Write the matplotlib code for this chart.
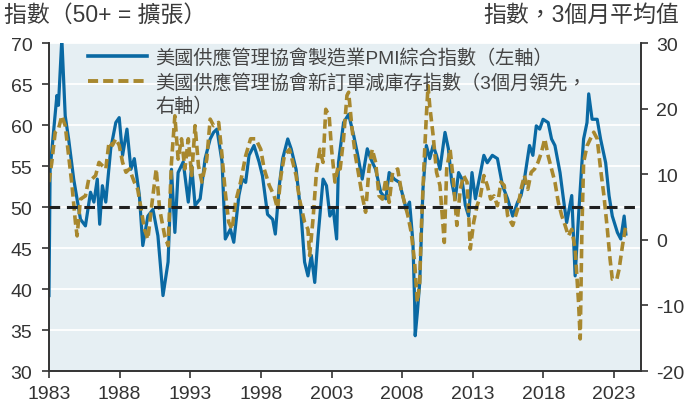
import matplotlib
matplotlib.use('Agg')
import matplotlib.pyplot as plt
from matplotlib.lines import Line2D
from matplotlib.transforms import blended_transform_factory

plt.rcParams['font.family'] = ['Liberation Sans', 'Noto Sans CJK TC']
plt.rcParams['axes.unicode_minus'] = False

# --- data ---
pmi_years = [
    1983.0, 1983.08, 1983.56, 1983.67, 1983.91, 1984.15, 1984.39, 1984.75, 1985.23, 1985.58,
    1985.94, 1986.18, 1986.42, 1986.59, 1986.78, 1987.02, 1987.37, 1987.73, 1987.97, 1988.21,
    1988.52, 1988.80, 1989.04, 1989.40, 1989.64, 1990.00, 1990.36, 1990.71, 1991.07, 1991.43,
    1991.67, 1991.91, 1992.14, 1992.50, 1992.86, 1993.10, 1993.34, 1993.70, 1994.05, 1994.41,
    1994.65, 1994.89, 1995.25, 1995.48, 1995.84, 1996.08, 1996.44, 1996.68, 1996.92, 1997.16,
    1997.51, 1997.87, 1998.11, 1998.47, 1998.83, 1999.02, 1999.30, 1999.54, 1999.90, 2000.14,
    2000.49, 2000.85, 2001.09, 2001.33, 2001.57, 2001.81, 2002.05, 2002.40, 2002.64, 2002.88,
    2003.12, 2003.36, 2003.49, 2003.85, 2004.21, 2004.57, 2004.81, 2005.17, 2005.53, 2005.77,
    2006.12, 2006.48, 2006.84, 2007.08, 2007.44, 2007.80, 2008.04, 2008.28, 2008.52, 2008.76,
    2008.88, 2008.92, 2009.07, 2009.24, 2009.47, 2009.71, 2009.95, 2010.19, 2010.43, 2010.67,
    2011.03, 2011.27, 2011.51, 2011.75, 2011.99, 2012.23, 2012.47, 2012.70, 2012.94, 2013.18,
    2013.54, 2013.78, 2014.02, 2014.38, 2014.74, 2015.10, 2015.46, 2015.82, 2016.17, 2016.41,
    2016.65, 2017.01, 2017.25, 2017.49, 2017.73, 2017.97, 2018.33, 2018.57, 2018.81, 2019.17,
    2019.41, 2019.64, 2020.00, 2020.24, 2020.48, 2020.72, 2020.84, 2021.08, 2021.20, 2021.44,
    2021.80, 2022.04, 2022.40, 2022.64, 2022.87, 2023.23, 2023.47, 2023.71, 2023.83,
]
pmi_values = [
    39.2, 54.6, 63.6, 62.4, 70.5, 61.1, 58.3, 53.4, 48.5, 47.7,
    51.8, 50.6, 53.4, 47.9, 52.6, 50.6, 57.1, 60.3, 60.9, 56.3,
    59.5, 54.6, 55.9, 51.4, 45.3, 48.9, 49.7, 46.5, 39.2, 43.3,
    54.6, 46.9, 54.2, 55.5, 50.6, 55.0, 50.2, 51.0, 55.9, 58.3,
    59.1, 59.5, 55.5, 46.1, 47.3, 45.7, 51.4, 53.4, 53.0, 56.3,
    57.5, 55.5, 53.8, 49.1, 48.5, 46.7, 52.6, 55.9, 58.3, 57.1,
    54.6, 48.9, 43.3, 41.6, 44.1, 40.8, 46.5, 53.4, 52.6, 48.9,
    49.7, 46.1, 55.4, 60.3, 61.3, 58.7, 56.7, 53.4, 57.1, 55.9,
    54.6, 51.8, 51.0, 54.2, 53.4, 53.0, 51.4, 49.7, 50.6, 45.7,
    38.4, 34.3, 37.1, 40.8, 52.2, 57.5, 55.9, 57.5, 56.3, 54.6,
    59.1, 57.1, 53.0, 51.0, 54.2, 53.4, 50.2, 48.9, 54.2, 51.0,
    54.2, 56.3, 55.4, 56.3, 55.9, 52.6, 51.0, 48.9, 50.6, 51.4,
    53.4, 57.5, 56.3, 59.9, 59.5, 60.7, 60.3, 58.3, 57.5, 54.2,
    51.0, 48.1, 51.4, 41.6, 48.9, 55.4, 58.3, 60.3, 63.8, 60.7,
    60.7, 58.3, 55.4, 51.4, 48.9, 46.9, 46.1, 48.9, 46.7,
]

inv_years = [
    1983.0, 1983.20, 1983.44, 1983.67, 1983.91, 1984.15, 1984.39, 1984.63, 1984.87, 1984.99,
    1985.23, 1985.58, 1985.82, 1986.06, 1986.30, 1986.54, 1986.78, 1987.02, 1987.25, 1987.49,
    1987.73, 1987.97, 1988.21, 1988.45, 1988.69, 1989.04, 1989.28, 1989.52, 1989.76, 1990.00,
    1990.24, 1990.59, 1990.83, 1991.19, 1991.43, 1991.67, 1991.91, 1992.14, 1992.38, 1992.62,
    1992.86, 1993.10, 1993.34, 1993.58, 1993.82, 1994.17, 1994.41, 1994.65, 1995.01, 1995.25,
    1995.48, 1995.72, 1995.96, 1996.20, 1996.56, 1996.92, 1997.27, 1997.63, 1997.99, 1998.23,
    1998.59, 1998.94, 1999.18, 1999.42, 1999.66, 2000.02, 2000.26, 2000.49, 2000.73, 2001.09,
    2001.33, 2001.45, 2001.69, 2001.93, 2002.17, 2002.40, 2002.59, 2002.83, 2003.00, 2003.24,
    2003.48, 2003.61, 2003.85, 2004.09, 2004.21, 2004.45, 2004.69, 2004.93, 2005.17, 2005.41,
    2005.65, 2005.88, 2006.12, 2006.36, 2006.60, 2006.84, 2007.08, 2007.32, 2007.68, 2007.92,
    2008.16, 2008.40, 2008.64, 2008.88, 2009.07, 2009.24, 2009.35, 2009.55, 2009.71, 2009.83,
    2009.95, 2010.19, 2010.43, 2010.67, 2010.98, 2011.15, 2011.39, 2011.63, 2011.87, 2012.11,
    2012.35, 2012.59, 2012.82, 2013.06, 2013.30, 2013.54, 2013.78, 2014.02, 2014.26, 2014.50,
    2014.74, 2014.98, 2015.22, 2015.46, 2015.82, 2016.17, 2016.41, 2016.65, 2016.89, 2017.13,
    2017.37, 2017.61, 2017.85, 2018.09, 2018.33, 2018.57, 2018.81, 2019.05, 2019.29, 2019.53,
    2019.76, 2020.00, 2020.24, 2020.48, 2020.60, 2020.72, 2020.84, 2021.08, 2021.32, 2021.56,
    2021.80, 2022.04, 2022.28, 2022.52, 2022.71, 2022.87, 2023.19, 2023.35, 2023.59, 2023.83,
]
inv_values = [
    8.8, 11.8, 16.4, 16.9, 18.9, 17.4, 12.8, 8.3, 2.7, 0.6,
    6.2, 6.7, 9.3, 9.3, 9.8, 11.8, 11.3, 10.8, 14.9, 14.4,
    15.4, 14.4, 11.8, 10.3, 10.8, 8.8, 7.7, 4.7, 1.6, 0.1,
    4.7, 10.8, 4.7, 0.6, -0.9, 11.8, 18.9, 12.3, 15.4, 10.8,
    15.4, 9.8, 17.4, 11.3, 8.8, 12.3, 18.4, 17.4, 17.9, 12.8,
    7.2, 2.7, 1.6, 5.7, 8.8, 12.8, 15.4, 15.4, 13.8, 10.8,
    8.3, 6.7, 4.7, 9.8, 12.8, 13.8, 11.8, 9.8, 6.2, 2.7,
    1.6, -2.4, 3.2, 10.3, 13.8, 11.8, 19.9, 18.9, 13.8, 8.8,
    11.3, 10.8, 15.4, 22.0, 22.5, 16.9, 12.8, 9.8, 6.7, 4.2,
    10.8, 13.8, 11.8, 6.7, 6.2, 9.3, 5.7, 10.3, 10.8, 7.7,
    5.7, 3.7, 1.1, -3.4, -9.5, -6.5, 1.6, 11.8, 18.9, 23.5,
    20.4, 15.9, 10.3, 8.3, -0.4, 10.8, 13.8, 8.8, 2.2, 7.7,
    9.8, 8.8, -1.4, 2.7, 5.2, 6.7, 9.8, 8.3, 6.2, 6.7,
    5.2, 8.8, 8.3, 3.7, 2.2, 4.7, 7.7, 9.8, 7.7, 10.3,
    10.8, 11.8, 13.3, 15.4, 12.8, 10.8, 8.8, 5.7, 3.7, 2.2,
    0.6, 1.6, -1.4, -9.5, -15.1, 1.6, 11.8, 14.3, 15.4, 16.4,
    15.4, 10.8, 6.7, 1.6, -2.9, -6.0, -6.0, -4.5, -0.9, 2.2,
]

year_ticks = list(range(1983, 2024, 5))
left_ticks = [30, 35, 40, 45, 50, 55, 60, 65, 70]
right_ticks = [-20, -10, 0, 10, 20, 30]
expansion_line = 50

label_pmi = '美國供應管理協會製造業PMI綜合指數（左軸）'
label_inv = '美國供應管理協會新訂單減庫存指數（3個月領先，'
label_inv2 = '右軸）'

BLUE = '#0a69a3'
GOLD = '#a8882e'
DARK = '#333333'

fig = plt.figure(figsize=(6.84, 4.06), dpi=100)
ax = fig.add_axes([0.0716, 0.0837, 0.8655, 0.8079])
ax.set_facecolor('#e6eff3')
ax.set_axisbelow(True)
ax.yaxis.grid(True, color='white', linewidth=1.3)

ax.plot(pmi_years, pmi_values, color=BLUE, linewidth=2.3, solid_joinstyle='round')
ax.set_xlim(1983, 2024.9)
ax.set_ylim(30, 70)
ax.set_yticks(left_ticks)
ax.set_xticks(year_ticks)

ax2 = ax.twinx()
ax2.plot(inv_years, inv_values, color=GOLD, linewidth=2.6, dashes=(2.6, 1.3))
ax2.set_ylim(-20, 30)
ax2.set_yticks(right_ticks)

# 50 = expansion threshold, drawn on top of both series
tr = blended_transform_factory(ax2.transAxes, ax.transData)
ax2.plot([0, 1], [expansion_line, expansion_line], transform=tr,
         color='#1f1f1f', linewidth=2.2, dashes=(3.5, 2.2), zorder=5)

for a in (ax, ax2):
    a.spines['top'].set_visible(False)
    for s in ('left', 'right', 'bottom'):
        a.spines[s].set_color(DARK)
        a.spines[s].set_linewidth(1.2)

ax.tick_params(axis='y', direction='out', length=5, width=1.2, pad=7,
               labelsize=14, colors=DARK)
ax.tick_params(axis='x', direction='out', length=5, width=1.2, pad=5,
               labelsize=14, colors=DARK)
ax2.tick_params(axis='y', direction='out', length=5, width=1.2, pad=6,
                labelsize=14, colors=DARK)

handles = [
    Line2D([], [], color=BLUE, linewidth=2.6),
    Line2D([], [], color=GOLD, linewidth=2.8, dashes=(2.6, 1.3)),
    Line2D([], [], linestyle='none'),
]
ax2.legend(handles, [label_pmi, label_inv, label_inv2], loc='upper left',
           bbox_to_anchor=(0.066, 0.985), frameon=False, fontsize=13.8,
           handlelength=3.1, handletextpad=0.4, labelspacing=0.28,
           borderpad=0, borderaxespad=0, labelcolor='#444444')

fig.text(0.006, 0.962, '指數（50+ = 擴張）', fontsize=16.5, color='#3a3a3a',
         ha='left', va='center')
fig.text(0.993, 0.962, '指數，3個月平均值', fontsize=16.5, color='#3a3a3a',
         ha='right', va='center')

fig.savefig('out.png', dpi=100)
